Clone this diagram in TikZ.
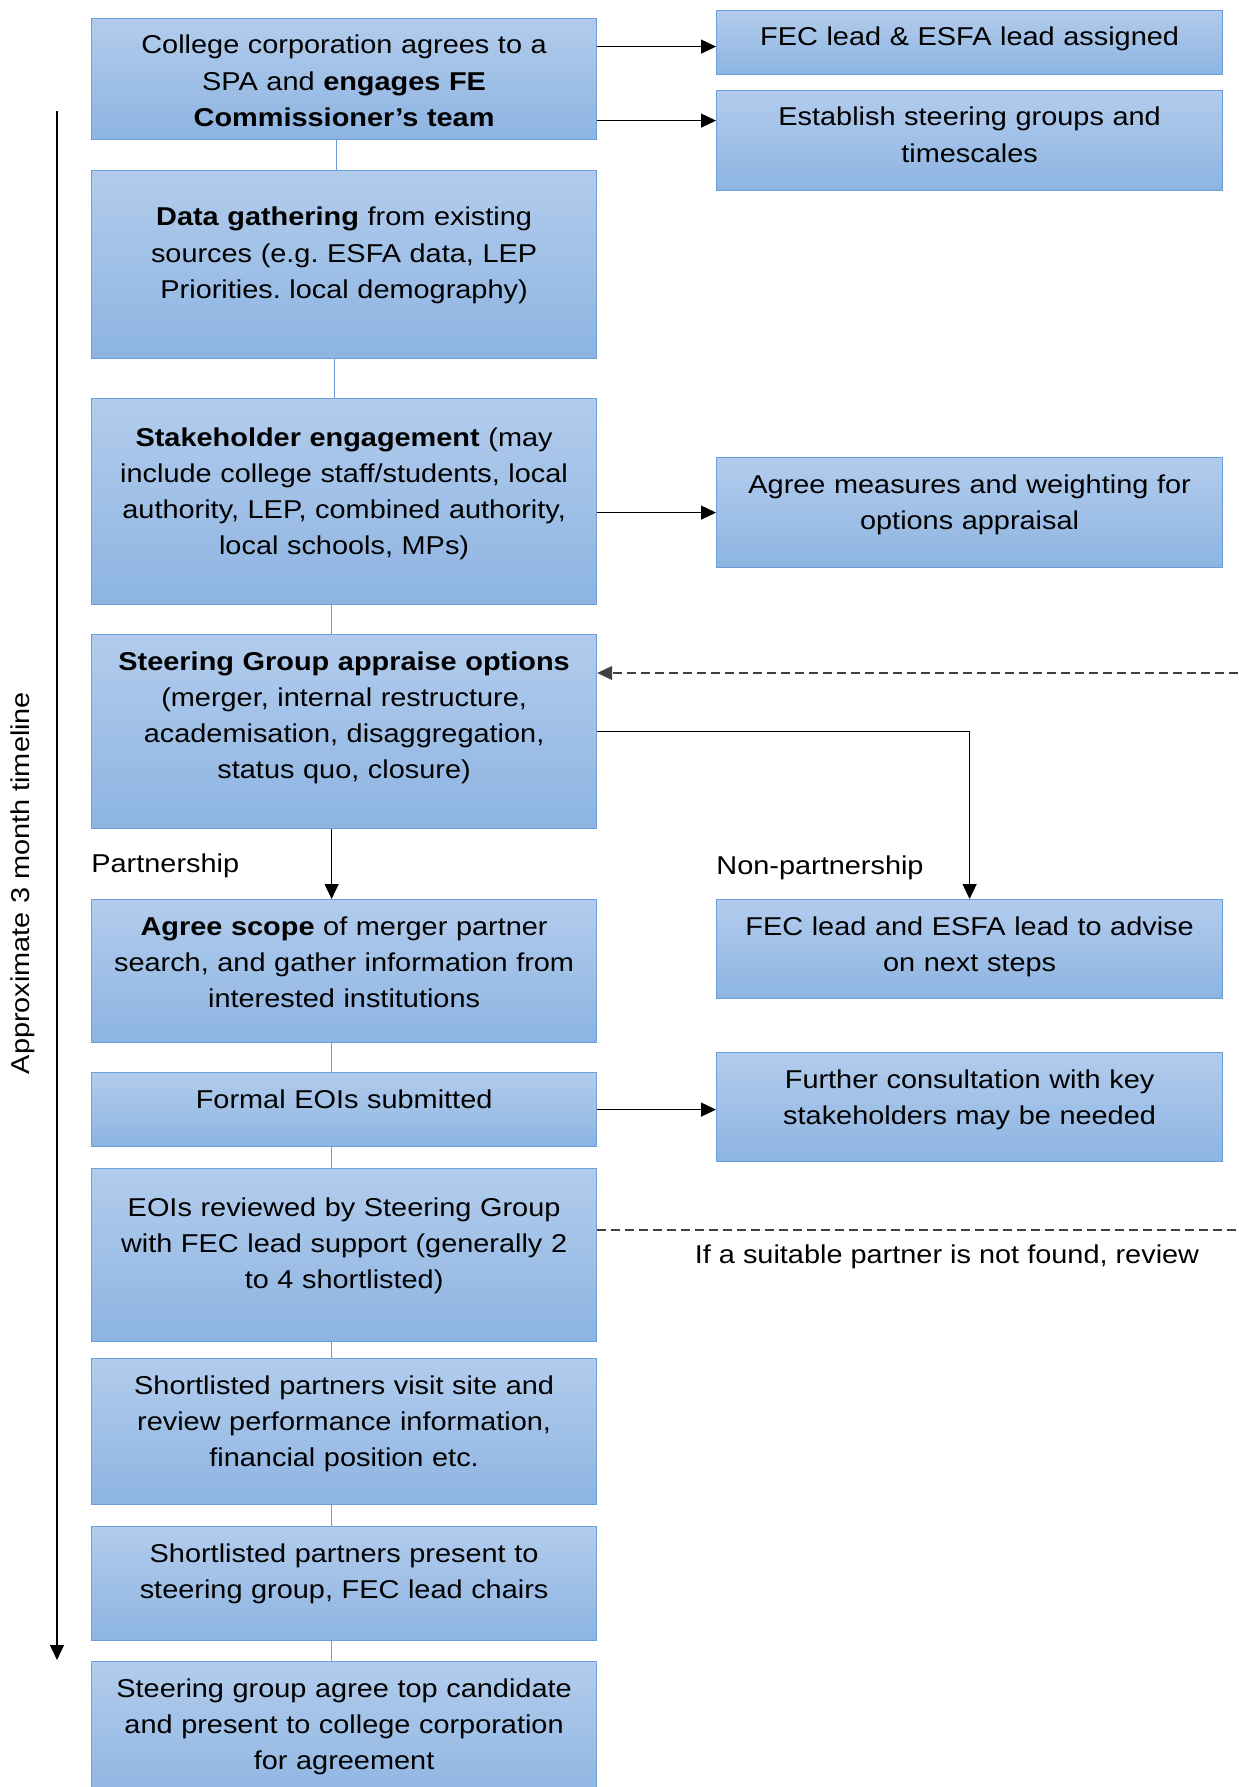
\documentclass[tikz,border=0pt]{standalone}
\usepackage{fontspec}
\setmainfont{Liberation Sans}[FakeStretch=1.12]
\usepackage{tikz}
\usetikzlibrary{arrows.meta}
\definecolor{boxtop}{RGB}{178,204,236}
\definecolor{boxbot}{RGB}{141,180,226}
\definecolor{boxline}{RGB}{108,158,218}
\definecolor{dashgray}{RGB}{64,64,64}
\frenchspacing
\begin{document}
\begin{tikzpicture}[x=0.5pt,y=-0.5pt,
    mainbox/.style={draw=boxline,line width=0.6pt,top color=boxtop,bottom color=boxbot,
      anchor=north west,inner sep=0pt,minimum width=252.5pt},
    sidebox/.style={mainbox,minimum width=253pt},
    txt/.style={font=\fontsize{12.9}{18.1}\selectfont,align=center,text width=252pt,
      inner sep=0pt,anchor=base},
    lbl/.style={font=\fontsize{12.9}{18.1}\selectfont,inner sep=0pt},
    link/.style={draw=boxline,line width=0.6pt},
    arr/.style={-{Triangle[length=7.5pt,width=7pt]},line width=0.6pt},
    dashline/.style={dashgray,line width=0.6pt,dash pattern=on 4.5pt off 2.5pt}]
  \useasboundingbox (0,0) rectangle (1238,1787);
  % main column
  \node[mainbox,minimum height=60.5pt] (college) at (91,18) {};
  \node[txt] (collegetxt) at ([yshift=-18pt]college.north)
    {College corporation agrees to a\\ SPA and \textbf{engages FE}\\ \textbf{Commissioner’s team}};
  \node[mainbox,minimum height=94pt] (data) at (91,170) {};
  \node[txt] (datatxt) at ([yshift=-28pt]data.north)
    {\textbf{Data gathering} from existing\\ sources (e.g. ESFA data, LEP\\ Priorities. local demography)};
  \node[mainbox,minimum height=103pt] (stake) at (91,398) {};
  \node[txt] (staketxt) at ([yshift=-24pt]stake.north)
    {\textbf{Stakeholder engagement} (may\\ include college staff/students, local\\ authority, LEP, combined authority,\\ local schools, MPs)};
  \node[mainbox,minimum height=97pt] (appraise) at (91,634) {};
  \node[txt] (appraisetxt) at ([yshift=-18pt]appraise.north)
    {\textbf{Steering Group appraise options}\\ (merger, internal restructure,\\ academisation, disaggregation,\\ status quo, closure)};
  \node[mainbox,minimum height=71.5pt] (scope) at (91,899) {};
  \node[txt] (scopetxt) at ([yshift=-18pt]scope.north)
    {\textbf{Agree scope} of merger partner\\ search, and gather information from\\ interested institutions};
  \node[mainbox,minimum height=37pt] (eois) at (91,1072) {};
  \node[txt] (eoistxt) at ([yshift=-18pt]eois.north) {Formal EOIs submitted};
  \node[mainbox,minimum height=86.5pt] (review) at (91,1168) {};
  \node[txt] (reviewtxt) at ([yshift=-24pt]review.north)
    {EOIs reviewed by Steering Group\\ with FEC lead support (generally 2\\ to 4 shortlisted)};
  \node[mainbox,minimum height=73pt] (visit) at (91,1358) {};
  \node[txt] (visittxt) at ([yshift=-18pt]visit.north)
    {Shortlisted partners visit site and\\ review performance information,\\ financial position etc.};
  \node[mainbox,minimum height=57pt] (present) at (91,1526) {};
  \node[txt] (presenttxt) at ([yshift=-18pt]present.north)
    {Shortlisted partners present to\\ steering group, FEC lead chairs};
  \node[mainbox,minimum height=72pt] (agree) at (91,1661) {};
  \node[txt] (agreetxt) at ([yshift=-18pt]agree.north)
    {Steering group agree top candidate\\ and present to college corporation\\ for agreement};
  % side column
  \node[sidebox,minimum height=32pt] (assign) at (716,10) {};
  \node[txt] (assigntxt) at ([yshift=-18pt]assign.north) {FEC lead \& ESFA lead assigned};
  \node[sidebox,minimum height=50pt] (steer) at (716,90) {};
  \node[txt] (steertxt) at ([yshift=-18pt]steer.north)
    {Establish steering groups and\\ timescales};
  \node[sidebox,minimum height=55pt] (measures) at (716,457) {};
  \node[txt] (measurestxt) at ([yshift=-18pt]measures.north)
    {Agree measures and weighting for\\ options appraisal};
  \node[sidebox,minimum height=49.5pt] (advise) at (716,899) {};
  \node[txt] (advisetxt) at ([yshift=-18pt]advise.north)
    {FEC lead and ESFA lead to advise\\ on next steps};
  \node[sidebox,minimum height=54.5pt] (consult) at (716,1052) {};
  \node[txt] (consulttxt) at ([yshift=-18pt]consult.north)
    {Further consultation with key\\ stakeholders may be needed};
  % labels
  \node[lbl,anchor=west] (partner) at (91,866) {Partnership};
  \node[lbl,anchor=west] (nonpartner) at (716,868) {Non-partnership};
  \node[lbl] (notfound) at (947,1257) {If a suitable partner is not found, review};
  \node[lbl,rotate=90] (timeline) at (23,883) {Approximate 3 month timeline};
  % connectors
  \foreach \a/\b/\s in {college/data/-3.75,data/stake/-4.75,stake/appraise/-6.25,
      scope/eois/-6.25,eois/review/-6.25,review/visit/-6.25,
      visit/present/-6.25,present/agree/-6.25}
    \draw[link] ([xshift=\s pt]\a.south) -- ([xshift=\s pt]\b.north);
  \coordinate (c1) at ([yshift=16.25pt]college.east);
  \coordinate (c2) at ([yshift=-20.75pt]college.east);
  \draw[arr] (c1) -- (c1 -| assign.west);
  \draw[arr] (c2) -- (c2 -| steer.west);
  \draw[arr] (stake.east |- measures.west) -- (measures.west);
  \draw[arr] (appraise.east) -| (advise.north);
  \draw[arr] ([xshift=-6.25pt]appraise.south) -- ([xshift=-6.25pt]scope.north);
  \draw[arr] (eois.east) -- (eois.east -| consult.west);
  \coordinate (backR) at (1238,673);
  \draw[dashline,arr] (backR) -- (backR -| appraise.east);
  \coordinate (reviewR) at (1238,1230);
  \draw[dashline] (review.east |- reviewR) -- (reviewR);
  \coordinate (tstart) at (57,111);
  \coordinate (tend) at (57,1660);
  \draw[arr] (tstart) -- (tend);
\end{tikzpicture}
\end{document}
